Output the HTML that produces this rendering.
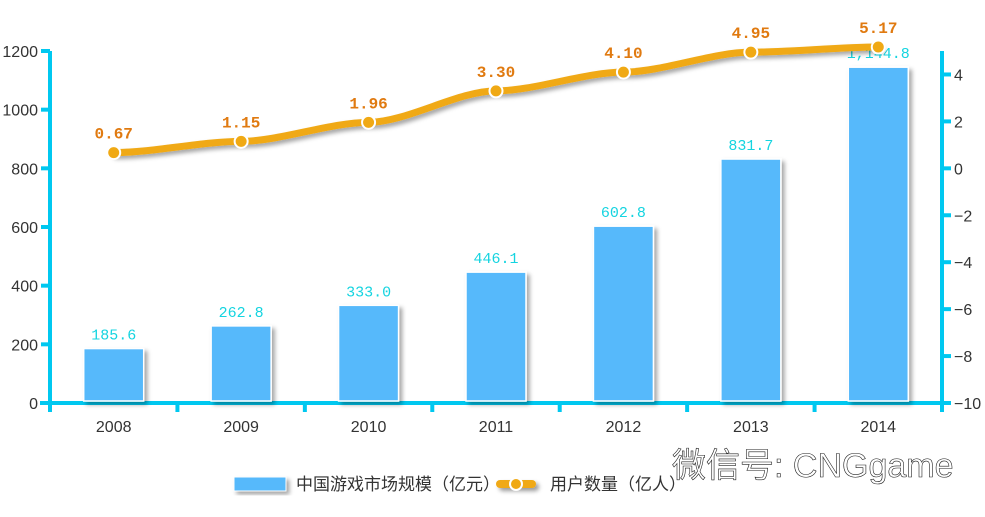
<!DOCTYPE html>
<html><head><meta charset="utf-8"><style>
html,body{margin:0;padding:0;background:#fff;}
svg{display:block;font-family:"Liberation Sans","Noto Sans CJK SC",sans-serif;}
</style></head><body>
<svg id="chart" width="985" height="517" viewBox="0 0 985 517">
<defs>
<filter id="sh" x="-10%" y="-10%" width="130%" height="140%"><feDropShadow dx="3" dy="3" stdDeviation="2" flood-color="#000" flood-opacity="0.35"/></filter>
<filter id="sh2" filterUnits="userSpaceOnUse" x="480" y="470" width="80" height="30"><feDropShadow dx="3" dy="3" stdDeviation="2" flood-color="#000" flood-opacity="0.4"/></filter>
</defs>
<g id="axes"></g>
<g id="bars"></g>
<g id="line"></g>
<g id="legend">
<rect x="234" y="477" width="52" height="14" fill="#57b9fb" stroke="#fff" filter="url(#sh)"/>
<text x="296" y="490" font-size="17" fill="#333">中国游戏市场规模（亿元）</text>
<rect x="496" y="480" width="40" height="8" rx="4" fill="#f0a914" filter="url(#sh2)"/>
<circle cx="516" cy="484" r="6" fill="#f0a914" stroke="#fff" stroke-width="2"/>
<text x="550" y="490" font-size="17" fill="#333">用户数量（亿人）</text>
</g>
<text x="672" y="477" font-size="34" fill="#fff" stroke="#222" stroke-width="0.6">微信号: CNGgame</text>
</svg>
<script>
const categories=["2008","2009","2010","2011","2012","2013","2014"];
const marketValues=[185.6,262.8,333.0,446.1,602.8,831.7,1144.8];
const marketLabels=["185.6","262.8","333.0","446.1","602.8","831.7","1,144.8"];
const userValues=[0.67,1.15,1.96,3.30,4.10,4.95,5.17];
const userLabels=["0.67","1.15","1.96","3.30","4.10","4.95","5.17"];
const leftTicks=[0,200,400,600,800,1000,1200];
const rightTicks=[-10,-8,-6,-4,-2,0,2,4];

const NS="http://www.w3.org/2000/svg";
const X0=50,X1=942,Y0=403,Ytop=51;
const band=(X1-X0)/categories.length;
const xc=i=>X0+band*(i+0.5);
const yL=v=>Y0-(v-0)/1200*(Y0-Ytop);
const yR=v=>Y0-(v+10)/15*(Y0-Ytop);
function mk(tag,attrs,parent){const e=document.createElementNS(NS,tag);for(const k in attrs)e.setAttribute(k,attrs[k]);parent.appendChild(e);return e;}
const axes=document.getElementById('axes'),bars=document.getElementById('bars'),line=document.getElementById('line');
const AC="#00c8f0";
let e;
e=mk('line',{x1:X0,y1:Ytop,x2:X0,y2:412,stroke:AC,'stroke-width':4},axes);


e=mk('line',{x1:X1,y1:Ytop,x2:X1,y2:412,stroke:AC,'stroke-width':4},axes);


e=mk('line',{x1:40,y1:Y0,x2:945,y2:Y0,stroke:AC,'stroke-width':4},axes);


leftTicks.forEach(t=>{
 mk('line',{x1:X0-9,y1:yL(t),x2:X0,y2:yL(t),stroke:AC,'stroke-width':4},axes);
 e=mk('text',{x:X0-12,y:yL(t)+6,'font-size':16,fill:'#333','text-anchor':'end'},axes);e.textContent=t;
 
 
});
rightTicks.forEach(t=>{
 mk('line',{x1:X1,y1:yR(t),x2:X1+9,y2:yR(t),stroke:AC,'stroke-width':4},axes);
 e=mk('text',{x:X1+12,y:yR(t)+6,'font-size':16,fill:'#333'},axes);e.textContent=String(t).replace('-','−');
 
 
});
for(let i=1;i<categories.length;i++){mk('line',{x1:X0+band*i,y1:Y0,x2:X0+band*i,y2:412,stroke:AC,'stroke-width':4},axes);}
categories.forEach((c,i)=>{
 e=mk('text',{x:xc(i),y:432,'font-size':16,fill:'#333','text-anchor':'middle'},axes);e.textContent=c;
 
 
});
marketValues.forEach((v,i)=>{
 const w=60,y=yL(v);
 e=mk('rect',{x:xc(i)-w/2,y:y,width:w,height:Y0-2-y,fill:'#57b9fb',stroke:'#fff','stroke-width':1.5,filter:'url(#sh)'},bars);
 
 
 e=mk('text',{x:xc(i),y:y-9,'font-size':15,fill:'#14d4e0','text-anchor':'middle','font-family':'Liberation Mono,monospace'},bars);e.textContent=marketLabels[i];
 
 
});
const pts=userValues.map((v,i)=>[xc(i),yR(v)]);
let d='M'+pts[0][0]+','+pts[0][1];
for(let i=1;i<pts.length;i++){const p=pts[i-1],q=pts[i],dx=(q[0]-p[0])*0.3;d+=' C'+(p[0]+dx)+','+p[1]+' '+(q[0]-dx)+','+q[1]+' '+q[0]+','+q[1];}
e=mk('path',{d:d,fill:'none',stroke:'#f0a914','stroke-width':7,'stroke-linecap':'round',filter:'url(#sh)'},line);


pts.forEach((p,i)=>{
 e=mk('circle',{cx:p[0],cy:p[1],r:6.5,fill:'#f0a914',stroke:'#fff','stroke-width':2},line);
 
 
 e=mk('text',{x:p[0],y:p[1]-14,'font-size':16,'font-weight':'bold',fill:'#e07a10','text-anchor':'middle','font-family':'Liberation Mono,monospace'},line);e.textContent=userLabels[i];
 
 
});
</script>
</body></html>
